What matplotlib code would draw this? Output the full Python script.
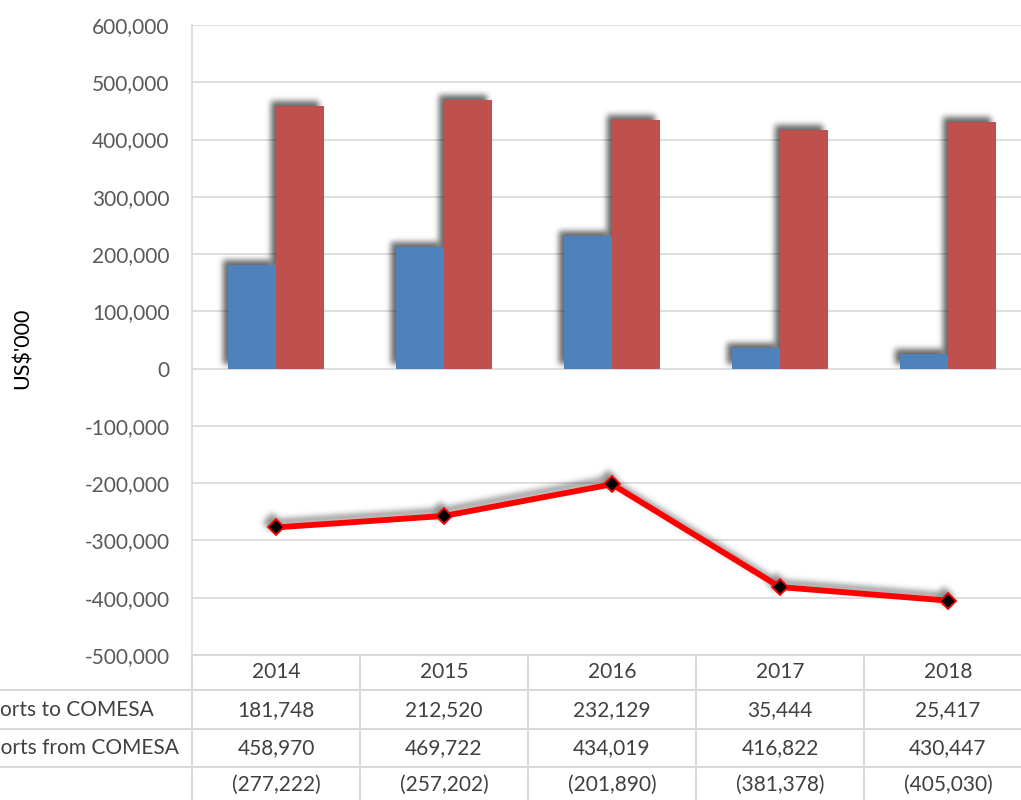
import matplotlib
matplotlib.use('Agg')
from matplotlib import pyplot as plt
from matplotlib.transforms import blended_transform_factory
import numpy as np

years = ['2014', '2015', '2016', '2017', '2018']
exports = [181748, 212520, 232129, 35444, 25417]
imports = [458970, 469722, 434019, 416822, 430447]
balance = [-277222, -257202, -201890, -381378, -405030]
row_labels = ['Exports to COMESA', 'Imports from COMESA', '']

W, H = 1021, 800
plt.rcParams['font.family'] = ['Lato', 'DejaVu Sans']


def blur(a, sigma):
    r = int(3 * sigma)
    k = np.exp(-0.5 * (np.arange(-r, r + 1) / sigma) ** 2)
    k /= k.sum()
    a = np.apply_along_axis(lambda v: np.convolve(v, k, mode='same'), 0, a)
    a = np.apply_along_axis(lambda v: np.convolve(v, k, mode='same'), 1, a)
    return a


def make_shadow(sigma=3.0, dx=-5, dy=-5, alpha=0.6, pad=16):
    def filt(im, dpi):
        a = np.pad(im[..., 3], pad)
        a = blur(a, sigma)
        a = np.roll(np.roll(a, dx, axis=1), dy, axis=0)
        out = np.zeros(a.shape + (4,))
        out[..., 3] = np.clip(a * alpha, 0, 1)
        return out, -pad, -pad
    return filt


fig = plt.figure(figsize=(W / 100, H / 100), dpi=100)
ax = fig.add_axes([192 / W, 1 - 655 / H, (1032 - 192) / W, (655 - 25) / H])

x = np.arange(len(years))
bw = 0.286

# soft drop shadows first, then the real marks on top
for xs, vals in [(x - bw / 2, exports), (x + bw / 2, imports)]:
    sh = ax.bar(xs, vals, bw, color='k', zorder=2)
    for p in sh:
        p.set_agg_filter(make_shadow())
ax.bar(x - bw / 2, exports, bw, color='#4F81BD', zorder=3)
ax.bar(x + bw / 2, imports, bw, color='#C0504D', zorder=3)

ls, = ax.plot(x, balance, color='k', lw=4.2, zorder=2, marker='D', markersize=9)
ls.set_agg_filter(make_shadow(sigma=3.0, dx=-4, dy=-5, alpha=0.45))
ax.plot(x, balance, color='#FF0000', lw=4.2, zorder=4,
        marker='D', markersize=8.5, markerfacecolor='black', markeredgecolor='#FF0000',
        markeredgewidth=1.3)

ax.set_xlim(-0.5, 4.5)
ax.set_ylim(-500000, 600000)
ax.set_yticks(np.arange(-500000, 600001, 100000))
ax.yaxis.set_major_formatter(matplotlib.ticker.FuncFormatter(lambda v, p: f'{int(v):,}'))
ax.tick_params(axis='y', length=0, pad=16, labelsize=15, labelcolor='#595959')
ax.set_xticks([])
ax.grid(axis='y', color='#D9D9D9', lw=1.2, zorder=0)
for s in ['top', 'right', 'bottom']:
    ax.spines[s].set_visible(False)
ax.spines['left'].set_color('#D9D9D9')
ax.spines['left'].set_linewidth(1.2)
ax.set_axisbelow(True)

fig.text(23 / W, 1 - 348 / H, "US$'000", rotation=90, ha='center', va='center', fontsize=15.5, color='black')

# data table under the plot
tr = blended_transform_factory(ax.transData, fig.transFigure)
gc = '#D9D9D9'
line_y = [655, 690, 729, 767]
for i, yy in enumerate(line_y):
    x0 = -0.5 if i == 0 else -0.5 - 192 / 168
    fig.add_artist(plt.Line2D([x0, 4.6], [1 - yy / H] * 2, transform=tr, color=gc, lw=1.5))
for b in np.arange(-0.5, 5, 1.0):
    fig.add_artist(plt.Line2D([b, b], [1 - 655 / H, 0], transform=tr, color=gc, lw=1.5))

tc = '#404040'
for i, yr in enumerate(years):
    fig.text(i, 1 - 672 / H, yr, transform=tr, ha='center', va='center', fontsize=15, color=tc)
rows = [[f'{v:,}' for v in exports], [f'{v:,}' for v in imports], [f'({-v:,})' for v in balance]]
row_y = [710, 748, 785]
for r, vals in enumerate(rows):
    for i, s in enumerate(vals):
        fig.text(i, 1 - row_y[r] / H, s, transform=tr, ha='center', va='center', fontsize=15, color=tc)
    # the row labels run past the left edge, as in the source image
    fig.text(-34 / W, 1 - row_y[r] / H, row_labels[r], ha='left', va='center', fontsize=15, color=tc)

fig.savefig('out.png', dpi=100)
